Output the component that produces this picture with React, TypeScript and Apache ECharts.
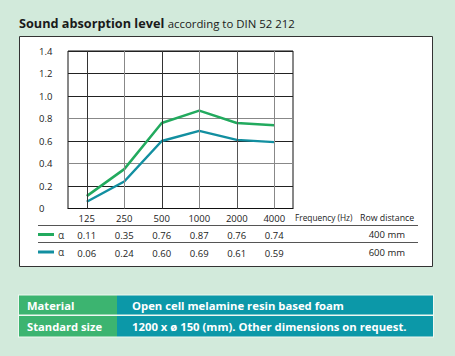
import React, { useEffect, useRef } from "react";
import * as echarts from "echarts";

const frequencies = ["125", "250", "500", "1000", "2000", "4000"];
const yTicks = [0, 0.2, 0.4, 0.6, 0.8, 1.0, 1.2, 1.4];
const alpha400 = [0.11, 0.35, 0.76, 0.87, 0.76, 0.74];
const alpha600 = [0.06, 0.24, 0.6, 0.69, 0.61, 0.59];
const rowDistances = ["400 mm", "600 mm"];
const specLabels = ["Material", "Standard size"];
const specValues = ["Open cell melamine resin based foam", "1200 x ø 150 (mm). Other dimensions on request."];

const GREEN = "#22aa5e";
const TEAL = "#128fa0";
const FONT = "Open Sans";

export default function App() {
  const ref = useRef<HTMLDivElement>(null);
  useEffect(() => {
    if (!ref.current) return;
    const chart = echarts.init(ref.current, null, { renderer: "svg" });
    const gridColors = ["#222", "#222", "#888", "#222", "#888", "#222", "#222", "#222"];
    const vColors = ["#333", "#888", "#333", "#888", "#555", "#888"];
    const tableText = (offset: number, vals: number[]) => ({
      type: "category",
      gridIndex: 0,
      position: "bottom",
      offset,
      data: vals.map((v) => v.toFixed(2)),
      axisLine: { show: false },
      axisTick: { show: false },
      splitLine: { show: false },
      axisLabel: { color: "#222", fontSize: 9.5, fontFamily: FONT, margin: 5 },
    });
    chart.setOption({
      animation: false,
      backgroundColor: "#d2eadb",
      textStyle: { fontFamily: FONT },
      grid: {
        left: 68,
        right: 162,
        top: 51,
        bottom: 147.5,
        show: true,
        borderColor: "#111",
        borderWidth: 1,
        backgroundColor: "transparent",
      },
      xAxis: [
        {
          type: "category",
          data: frequencies,
          axisLine: { show: true, lineStyle: { color: "#111" } },
          axisTick: { show: false },
          splitLine: { show: false },
          axisLabel: { color: "#222", fontSize: 9.5, fontFamily: FONT, margin: 5 },
        },
        tableText(17, alpha400),
        tableText(34.5, alpha600),
      ],
      yAxis: {
        type: "value",
        min: yTicks[0],
        max: yTicks[yTicks.length - 1],
        interval: 0.2,
        axisLine: { show: false },
        axisTick: { show: false },
        axisLabel: {
          align: "left",
          margin: 29,
          color: "#222",
          fontSize: 9.5,
          fontFamily: FONT,
          formatter: (v: number) => (v === 0 ? "0" : v.toFixed(1)),
        },
        splitLine: { show: true, lineStyle: { color: gridColors, width: 1 } },
      },
      graphic: [
        { type: "rect", z: -10, shape: { x: 19.5, y: 36.5, width: 413, height: 230 }, style: { fill: "#fff", stroke: "#333", lineWidth: 1 } },
        {
          type: "text",
          x: 19,
          y: 23,
          style: {
            text: "{b|Sound absorption level} {n|according to DIN 52 212}",
            verticalAlign: "middle",
            rich: {
              b: { fontSize: 12.7, fontWeight: "bold", fill: "#1a1a1a", fontFamily: FONT },
              n: { fontSize: 11.4, fill: "#1a1a1a", fontFamily: FONT },
            },
          },
        },
        { type: "text", x: 295, y: 217.5, style: { text: "Frequency (Hz)", fontSize: 8.3, fill: "#222", fontFamily: FONT, verticalAlign: "middle" } },
        { type: "text", x: 360, y: 217.5, style: { text: "Row distance", fontSize: 8.8, fill: "#222", fontFamily: FONT, verticalAlign: "middle" } },
        { type: "line", shape: { x1: 38, y1: 225.5, x2: 418, y2: 225.5 }, style: { stroke: "#555", lineWidth: 1 } },
        { type: "line", shape: { x1: 38, y1: 242.5, x2: 418, y2: 242.5 }, style: { stroke: "#555", lineWidth: 1 } },
        { type: "rect", shape: { x: 38, y: 233, width: 16, height: 3 }, style: { fill: GREEN } },
        { type: "rect", shape: { x: 38, y: 250.5, width: 16, height: 3 }, style: { fill: TEAL } },
        { type: "text", x: 58, y: 234.5, style: { text: "α", fontSize: 10, fill: "#333", fontFamily: FONT, verticalAlign: "middle" } },
        { type: "text", x: 58, y: 252, style: { text: "α", fontSize: 10, fill: "#333", fontFamily: FONT, verticalAlign: "middle" } },
        { type: "text", x: 405, y: 234.5, style: { text: rowDistances[0], fontSize: 9.5, fill: "#222", fontFamily: FONT, align: "right", verticalAlign: "middle" } },
        { type: "text", x: 405, y: 252, style: { text: rowDistances[1], fontSize: 9.5, fill: "#222", fontFamily: FONT, align: "right", verticalAlign: "middle" } },
        { type: "rect", shape: { x: 18, y: 294.5, width: 416, height: 43 }, style: { fill: "#eef8f1" } },
        { type: "rect", shape: { x: 19, y: 295.5, width: 98, height: 19 }, style: { fill: "#3cb470" } },
        { type: "rect", shape: { x: 117, y: 295.5, width: 316, height: 19 }, style: { fill: "#0c98a8" } },
        { type: "rect", shape: { x: 19, y: 316, width: 98, height: 20.5 }, style: { fill: "#3cb470" } },
        { type: "rect", shape: { x: 117, y: 316, width: 316, height: 20.5 }, style: { fill: "#0c98a8" } },
        { type: "text", x: 27, y: 305.5, style: { text: specLabels[0], fontSize: 11.2, fontWeight: "bold", fill: "#fff", fontFamily: FONT, verticalAlign: "middle" } },
        { type: "text", x: 27, y: 326.5, style: { text: specLabels[1], fontSize: 11.2, fontWeight: "bold", fill: "#fff", fontFamily: FONT, verticalAlign: "middle" } },
        { type: "text", x: 132, y: 305.5, style: { text: specValues[0], fontSize: 11.3, fontWeight: "bold", fill: "#fff", fontFamily: FONT, verticalAlign: "middle" } },
        { type: "text", x: 132, y: 326.5, style: { text: specValues[1], fontSize: 11.3, fontWeight: "bold", fill: "#fff", fontFamily: FONT, verticalAlign: "middle" } },
      ],
      series: [
        {
          type: "line",
          z: 1,
          data: [],
          silent: true,
          markLine: {
            silent: true,
            symbol: "none",
            label: { show: false },
            data: frequencies.map((f, i) => ({ xAxis: f, lineStyle: { color: vColors[i], width: 1, type: "solid" } })),
          },
        },
        {
          type: "line",
          z: 3,
          data: alpha400,
          symbol: "none",
          lineStyle: { color: GREEN, width: 2.5 },
          itemStyle: { color: GREEN },
        },
        {
          type: "line",
          z: 3,
          data: alpha600,
          symbol: "none",
          lineStyle: { color: TEAL, width: 2.5 },
          itemStyle: { color: TEAL },
        },
      ],
    });
    return () => chart.dispose();
  }, []);
  return <div ref={ref} style={{ position: "fixed", left: 0, top: 0, width: 455, height: 356 }} />;
}
